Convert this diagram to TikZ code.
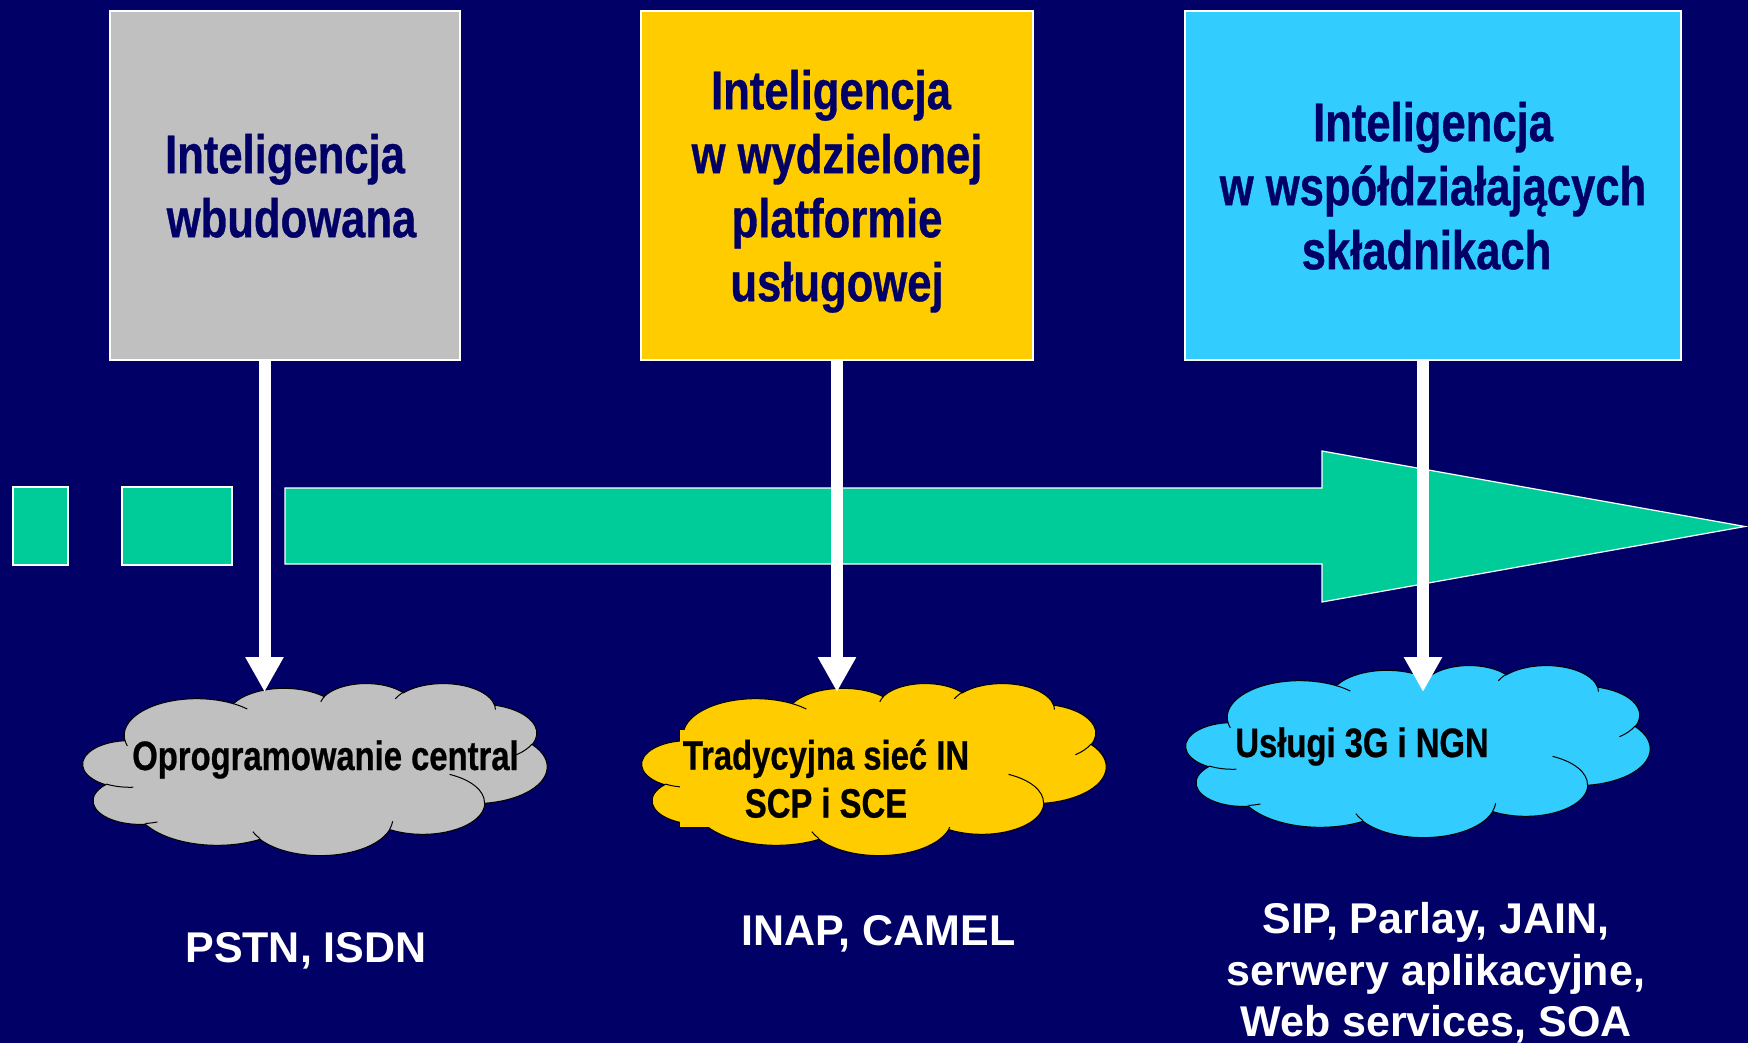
\documentclass[tikz,border=0pt]{standalone}
\usepackage{fontspec}
\setmainfont{Liberation Sans}
\newfontfamily\narrowfont[FakeStretch=0.8,FakeBold=0.6]{Liberation Sans}
\usetikzlibrary{arrows.meta}
\definecolor{bgnavy}{RGB}{0,0,102}
\definecolor{cgray}{RGB}{192,192,192}
\definecolor{cyellow}{RGB}{255,204,0}
\definecolor{ccyan}{RGB}{51,204,255}
\definecolor{cgreen}{RGB}{0,204,153}
\tikzset{
  ooarc/.style n args={4}{x radius=#1, y radius=#2,
    start angle={atan2((#1)*sin(#3),(#2)*cos(#3))},
    delta angle={mod(atan2((#1)*sin((#3)+(#4)),(#2)*cos((#3)+(#4)))-atan2((#1)*sin(#3),(#2)*cos(#3))+720,360)}},
  topbox/.style={draw=white, line width=1.2pt, text=bgnavy, align=center, text depth=0pt, inner sep=0pt,
    font=\narrowfont\bfseries\fontsize{54.5}{64}\selectfont},
  cloudtext/.style={text=black, align=center, inner sep=0pt, text depth=0pt,
    font=\narrowfont\bfseries\fontsize{41}{48}\selectfont},
  bottomtext/.style={text=white, align=center, inner sep=0pt, text depth=0pt,
    font=\bfseries\fontsize{43}{51.5}\selectfont},
  greenshape/.style={fill=cgreen, draw=white, line width=1.2pt},
  downarrow/.style={draw=white, line width=12pt, -{Triangle[width=36pt,length=35pt]}}
}
\newcommand\drawcloud[3]{%
\begin{scope}[shift={(#1,#2)},x=10.741pt,y=-3.981pt]
\filldraw[fill=#3,draw=black,line width=1pt] (3.900,14.370)
  arc[ooarc={6.753}{9.190}{-190.4875}{123.7805}]
  arc[ooarc={5.333}{7.267}{-144.1024}{89.9452}]
  arc[ooarc={4.365}{5.945}{-145.8079}{99.7230}]
  arc[ooarc={4.857}{6.595}{-130.9861}{117.2417}]
  arc[ooarc={5.333}{7.273}{-78.7089}{109.0269}]
  arc[ooarc={6.775}{9.220}{-46.2673}{130.2690}]
  arc[ooarc={5.785}{7.867}{0.6250}{114.0333}]
  arc[ooarc={6.752}{9.215}{22.4516}{115.1726}]
  arc[ooarc={7.720}{10.543}{66.2426}{75.7110}]
  arc[ooarc={4.360}{5.918}{-274.9421}{146.7356}]
  arc[ooarc={4.345}{5.945}{-246.8285}{152.5301}]
  -- cycle;
\draw[black,line width=1pt]
  (4.693,26.177) arc[ooarc={4.345}{5.945}{86.7420}{26.4295}]
  (6.928,34.899) arc[ooarc={4.360}{5.918}{73.6105}{11.4475}]
  (16.478,39.090) arc[ooarc={6.752}{9.215}{137.6242}{14.0811}]
  (28.827,34.751) arc[ooarc={6.752}{9.215}{6.4533}{15.9984}]
  (34.129,22.954) arc[ooarc={5.785}{7.867}{-70.2924}{70.9174}]
  (41.798,15.354) arc[ooarc={5.333}{7.273}{30.3180}{27.7515}]
  (38.324,5.426) arc[ooarc={4.857}{6.595}{-13.7443}{14.8589}]
  (29.078,3.952) arc[ooarc={4.857}{6.595}{-149.1815}{18.1954}]
  (22.141,4.720) arc[ooarc={4.365}{5.945}{-163.4943}{17.6864}]
  (14.000,5.192) arc[ooarc={6.753}{9.190}{-66.7070}{12.3194}]
  (4.127,15.789) arc[ooarc={6.753}{9.190}{157.6544}{11.8582}];
\end{scope}}
\begin{document}
\begin{tikzpicture}[x=1pt,y=-1pt]
\fill[bgnavy] (0,0) rectangle (1748,1043);
\useasboundingbox (0,0) rectangle (1748,1043);
% timeline arrow
\filldraw[greenshape] (13,487) rectangle (68,565);
\filldraw[greenshape] (122,487) rectangle (232,565);
\filldraw[greenshape] (285,488) -- (1322,488) -- (1322,451) -- (1745,526.5)
  -- (1322,602) -- (1322,564) -- (285,564) -- cycle;
% top boxes
\node[topbox, fill=cgray, minimum width=350pt, minimum height=349pt] (gbox) at (285,185.5)
  {Inteligencja\\\hspace*{13pt}wbudowana};
\node[topbox, fill=cyellow, minimum width=392pt, minimum height=349pt] (ybox) at (837,185.5)
  {Inteligencja\hspace*{12pt}\\w wydzielonej\\platformie\\usługowej};
\node[topbox, fill=ccyan, minimum width=496pt, minimum height=349pt] (cbox) at (1433,185.5)
  {Inteligencja\\w współdziałających\\składnikach\hspace*{13pt}};
% clouds
\drawcloud{83}{683}{cgray}
\drawcloud{642}{683}{cyellow}
\drawcloud{1186}{665}{ccyan}
\node[cloudtext, anchor=base] (gcloud) at (325.5,770) {Oprogramowanie central};
\node[cloudtext, fill=cyellow, minimum width=292pt, minimum height=97pt] (ycloud) at (826,778.5)
  {Tradycyjna sieć IN\\SCP i SCE};
\node[cloudtext, anchor=base] (ccloud) at (1362,757) {Usługi 3G i NGN};
% arrow tips
\coordinate (gtip) at (264.5,692);
\coordinate (ytip) at (837,692);
\coordinate (ctip) at (1423,692);
\draw[downarrow] (gbox.south -| gtip) -- (gtip);
\draw[downarrow] (ybox.south -| ytip) -- (ytip);
\draw[downarrow] (cbox.south -| ctip) -- (ctip);
% bottom texts
\node[bottomtext, anchor=base] (gproto) at (306,962) {PSTN, ISDN};
\node[bottomtext, anchor=base] (yproto) at (878.5,945) {INAP, CAMEL};
\node[bottomtext] (cproto) at (1436,969.5) {SIP, Parlay, JAIN,\\serwery aplikacyjne,\\Web services, SOA};
\end{tikzpicture}
\end{document}
